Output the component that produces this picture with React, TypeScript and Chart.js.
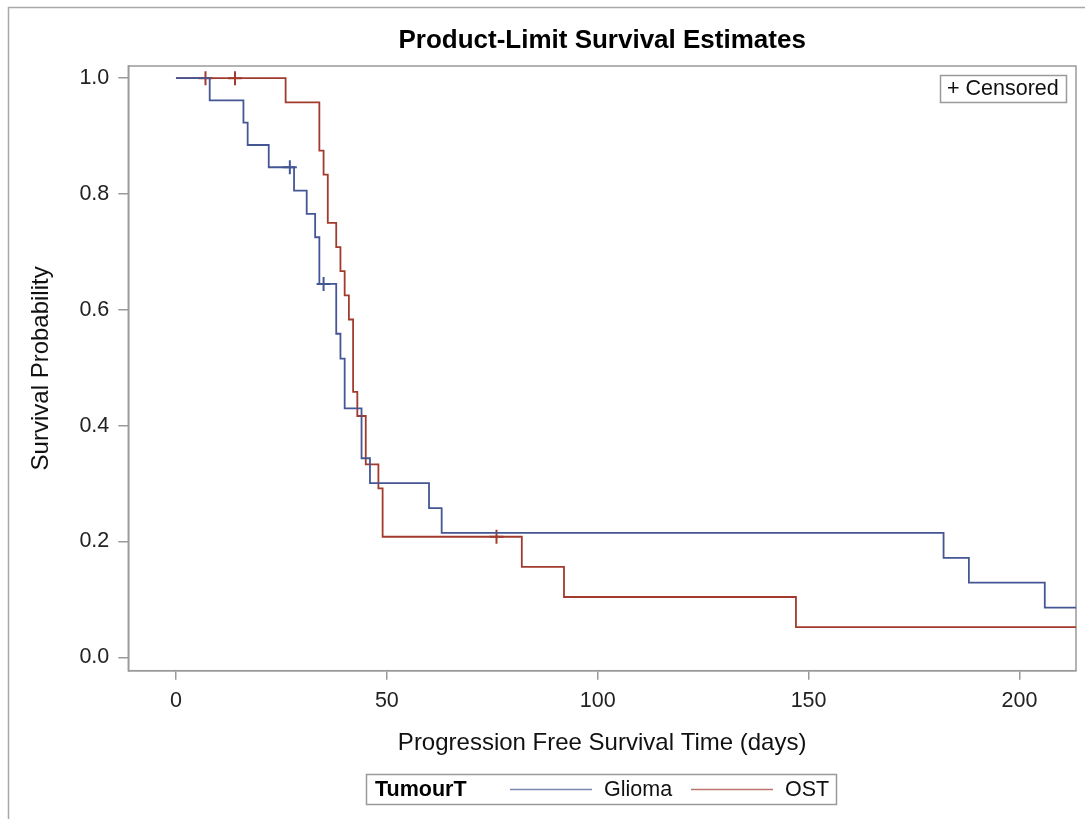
import { useEffect, useRef } from "react";
import { Chart, registerables } from "chart.js";

Chart.register(...registerables);

// Kaplan-Meier step data (event time in days, survival after the event)
const gliomaTimes = [0, 8, 16, 17, 22, 28, 31, 33, 34, 38, 39, 40, 44, 46, 60, 63, 182, 188, 206, 216];
const gliomaSurv = [1, 0.9615, 0.9231, 0.8846, 0.8462, 0.8059, 0.7656, 0.7253, 0.6447, 0.5587, 0.5157, 0.4298, 0.3438, 0.3008, 0.2578, 0.2148, 0.1719, 0.1289, 0.0859, 0.0859];
const ostTimes = [0, 26, 34, 35, 36, 38, 39, 40, 41, 42, 43, 45, 48, 49, 82, 92, 147, 216];
const ostSurv = [1, 0.9583, 0.875, 0.8333, 0.75, 0.7083, 0.6667, 0.625, 0.5833, 0.4583, 0.4167, 0.3333, 0.2917, 0.2083, 0.1563, 0.1042, 0.0521, 0.0521];

// Censored observations
const gliomaCensorTimes = [27, 35];
const gliomaCensorSurv = [0.8462, 0.6447];
const ostCensorTimes = [7, 14, 76];
const ostCensorSurv = [1, 1, 0.2083];

const xTicks = [0, 50, 100, 150, 200];
const yTicks = [0, 0.2, 0.4, 0.6, 0.8, 1.0];
const groups = ["Glioma", "OST"];
const groupColors = ["#445694", "#A23A2E"];

const chartTitle = "Product-Limit Survival Estimates";
const xTitle = "Progression Free Survival Time (days)";
const yTitle = "Survival Probability";
const legendTitle = "TumourT";
const censorLabel = "+ Censored";

const FONT = "'Liberation Sans', Arial, sans-serif";

const decorPlugin = {
  id: "decor",
  beforeDatasetsDraw(chart: any) {
    const { ctx, chartArea } = chart;
    ctx.save();
    ctx.strokeStyle = "#9a9a9a";
    ctx.lineWidth = 1.5;
    ctx.strokeRect(chartArea.left, chartArea.top, chartArea.right - chartArea.left, chartArea.bottom - chartArea.top);
    ctx.restore();
  },
  afterDraw(chart: any) {
    const { ctx, chartArea } = chart;
    ctx.save();
    // outer frame
    ctx.strokeStyle = "#a8a8a8";
    ctx.lineWidth = 1.5;
    ctx.beginPath();
    ctx.moveTo(8.5, 830);
    ctx.lineTo(8.5, 7.5);
    ctx.lineTo(1100, 7.5);
    ctx.stroke();

    // title
    ctx.fillStyle = "#000";
    ctx.textAlign = "center";
    ctx.textBaseline = "middle";
    ctx.font = `bold 26px ${FONT}`;
    ctx.fillText(chartTitle, (chartArea.left + chartArea.right) / 2, 41);

    // axis titles
    ctx.font = `24px ${FONT}`;
    ctx.fillStyle = "#111";
    ctx.fillText(xTitle, (chartArea.left + chartArea.right) / 2, 743);
    ctx.save();
    ctx.translate(41, (chartArea.top + chartArea.bottom) / 2);
    ctx.rotate(-Math.PI / 2);
    ctx.fillText(yTitle, 0, 0);
    ctx.restore();

    // censored box
    ctx.strokeStyle = "#9a9a9a";
    ctx.lineWidth = 1.5;
    ctx.strokeRect(940.5, 75.5, 126, 27);
    ctx.textAlign = "left";
    ctx.font = `21.5px ${FONT}`;
    ctx.fillStyle = "#111";
    ctx.fillText(censorLabel, 947, 89.5);

    // bottom legend
    ctx.strokeRect(366.5, 774.5, 470, 30);
    ctx.font = `bold 21.5px ${FONT}`;
    ctx.fillStyle = "#000";
    ctx.fillText(legendTitle, 375, 790);
    const items = [
      { x0: 510, x1: 592, tx: 604 },
      { x0: 691, x1: 773, tx: 785 },
    ];
    ctx.font = `21.5px ${FONT}`;
    items.forEach((it, i) => {
      ctx.strokeStyle = groupColors[i];
      ctx.globalAlpha = 0.7;
      ctx.lineWidth = 1.5;
      ctx.beginPath();
      ctx.moveTo(it.x0, 789.5);
      ctx.lineTo(it.x1, 789.5);
      ctx.stroke();
      ctx.globalAlpha = 1;
      ctx.fillStyle = "#111";
      ctx.fillText(groups[i], it.tx, 790);
    });
    ctx.restore();
  },
};

export default function App() {
  const ref = useRef<HTMLCanvasElement>(null);

  useEffect(() => {
    if (!ref.current) return;
    const toPts = (xs: number[], ys: number[]) => xs.map((x, i) => ({ x, y: ys[i] }));
    const chart = new Chart(ref.current, {
      type: "line",
      data: {
        datasets: [
          {
            label: groups[0],
            data: toPts(gliomaTimes, gliomaSurv),
            borderColor: groupColors[0],
            borderWidth: 1.8,
            stepped: true,
            pointRadius: 0,
            fill: false,
          },
          {
            label: groups[1],
            data: toPts(ostTimes, ostSurv),
            borderColor: groupColors[1],
            borderWidth: 1.8,
            stepped: true,
            pointRadius: 0,
            fill: false,
          },
          {
            type: "scatter",
            label: groups[0] + " censored",
            data: toPts(gliomaCensorTimes, gliomaCensorSurv),
            borderColor: groupColors[0],
            backgroundColor: groupColors[0],
            pointStyle: "cross",
            pointRadius: 7,
            borderWidth: 2,
          } as any,
          {
            type: "scatter",
            label: groups[1] + " censored",
            data: toPts(ostCensorTimes, ostCensorSurv),
            borderColor: groupColors[1],
            backgroundColor: groupColors[1],
            pointStyle: "cross",
            pointRadius: 7,
            borderWidth: 2,
          } as any,
        ],
      },
      options: {
        animation: false,
        responsive: false,
        devicePixelRatio: 1,
        layout: { padding: { left: 0, top: 66, right: 8.3, bottom: 0 } },
        plugins: {
          legend: { display: false },
          title: { display: false },
          tooltip: { enabled: false },
        },
        scales: {
          x: {
            type: "linear",
            min: -11.3,
            max: 213.4,
            afterBuildTicks: (s: any) => {
              s.ticks = xTicks.map((v) => ({ value: v }));
            },
            afterFit: (s: any) => {
              s.height = 819 - 670.7;
            },
            ticks: {
              font: { family: FONT, size: 21.5 },
              color: "#222",
              padding: 8,
              maxRotation: 0,
              callback: (v: any) => String(v),
            },
            grid: {
              display: true,
              drawOnChartArea: false,
              drawTicks: true,
              tickLength: 9,
              color: "#9a9a9a",
              lineWidth: 1.5,
            },
            border: { display: true, color: "#9a9a9a", width: 1.5 },
          },
          y: {
            type: "linear",
            min: -0.023,
            max: 1.021,
            afterBuildTicks: (s: any) => {
              s.ticks = yTicks.map((v) => ({ value: v }));
            },
            afterFit: (s: any) => {
              s.width = 128.3;
            },
            ticks: {
              font: { family: FONT, size: 21.5 },
              color: "#222",
              padding: 9,
              callback: (v: any) => Number(v).toFixed(1),
            },
            grid: {
              display: true,
              drawOnChartArea: false,
              drawTicks: true,
              tickLength: 10,
              color: "#9a9a9a",
              lineWidth: 1.5,
            },
            border: { display: true, color: "#9a9a9a", width: 1.5 },
          },
        },
      },
      plugins: [decorPlugin],
    });
    return () => chart.destroy();
  }, []);

  return (
    <div style={{ position: "absolute", left: 0, top: 0, width: 1085, height: 819, background: "#fff" }}>
      <canvas ref={ref} width={1085} height={819} style={{ display: "block", width: 1085, height: 819 }} />
    </div>
  );
}
